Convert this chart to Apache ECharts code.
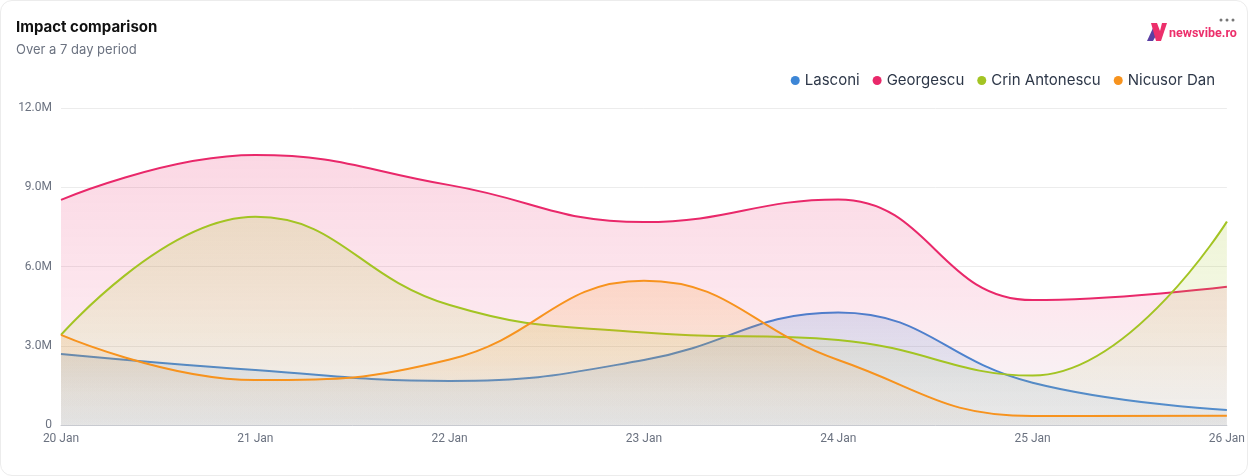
<!DOCTYPE html>
<html>
<head>
<meta charset="utf-8">
<script src="https://cdn.jsdelivr.net/npm/echarts@6/dist/echarts.min.js"></script>
<style>
html,body{margin:0;padding:0;background:#ffffff;}
#card{position:absolute;left:0;top:0;width:1246px;height:474px;border:1px solid #ececec;border-radius:12px;background:#fff;overflow:hidden;}
#chart{width:1248px;height:476px;position:absolute;left:-1px;top:-1px;}
</style>
</head>
<body>
<div id="card"><div id="chart"></div></div>
<script>
const categories = ['20 Jan','21 Jan','22 Jan','23 Jan','24 Jan','25 Jan','26 Jan'];
const lasconi    = [2.69e6, 2.08e6, 1.67e6, 2.46e6, 4.26e6, 1.60e6, 0.57e6];
const georgescu  = [8.52e6, 10.22e6, 9.08e6, 7.68e6, 8.54e6, 4.73e6, 5.23e6];
const crin       = [3.41e6, 7.88e6, 4.54e6, 3.50e6, 3.22e6, 1.87e6, 7.70e6];
const nicusor    = [3.41e6, 1.70e6, 2.48e6, 5.46e6, 2.46e6, 0.34e6, 0.35e6];
const seriesNames = ['Lasconi','Georgescu','Crin Antonescu','Nicusor Dan'];
const yTicks = [0, 3e6, 6e6, 9e6, 12e6];

const colors = ['#3d86d6','#e9286a','#a3c423','#f7931e'];
const rgba = (hex,a)=>{const n=parseInt(hex.slice(1),16);return `rgba(${n>>16},${(n>>8)&255},${n&255},${a})`;};

const chart = echarts.init(document.getElementById('chart'));
const allData = [lasconi, georgescu, crin, nicusor];

const series = allData.map((d,i)=>({
  name: seriesNames[i],
  type: 'line',
  z: 2 + i,
  data: d,
  smooth: 0.45,
  symbol: 'none',
  lineStyle: {width: 2, color: colors[i]},
  itemStyle: {color: colors[i]},
  areaStyle: {
    color: new echarts.graphic.LinearGradient(0,0,0,1,[
      {offset:0, color: rgba(colors[i],0.26)},
      {offset:0.55, color: rgba(colors[i],0.16)},
      {offset:1, color: 'rgba(175,175,175,0.14)'}
    ])
  }
}));

chart.setOption({
  animation: false,
  color: colors,
  textStyle: {fontFamily: 'Inter, Roboto, sans-serif'},
  title: [
    {text: 'Impact comparison', left: 16, top: 20, padding: 0, textStyle: {fontSize: 15, fontWeight: 'bold', color: '#111', fontFamily: 'Inter, Roboto, sans-serif'}},
    {text: 'Over a 7 day period', left: 16, top: 44, padding: 0, textStyle: {fontSize: 13, fontWeight: 'normal', color: '#6b7280', fontFamily: 'Inter, Roboto, sans-serif'}}
  ],
  legend: {
    right: 28, top: 68,
    icon: 'circle', itemWidth: 9, itemHeight: 9, itemGap: 13,
    textStyle: {fontSize: 15, color: '#2d3748', fontFamily: 'Inter, Roboto, sans-serif', padding: [0,0,0,0]},
    data: seriesNames
  },
  grid: {left: 61, right: 21, top: 108, bottom: 51, containLabel: false},
  xAxis: {
    type: 'category', data: categories, boundaryGap: false,
    axisLine: {lineStyle: {color: '#c8cad0', width: 1}},
    axisTick: {show: false},
    axisLabel: {color: '#6b7280', fontSize: 12, margin: 8, fontFamily: 'Roboto, sans-serif'},
    splitLine: {show: false}
  },
  yAxis: {
    type: 'value', min: yTicks[0], max: yTicks[yTicks.length-1], interval: yTicks[1]-yTicks[0],
    axisLine: {show: false}, axisTick: {show: false},
    axisLabel: {color: '#6b7280', fontSize: 12, margin: 9, fontFamily: 'Roboto, sans-serif',
      formatter: v => v === 0 ? '0' : (v/1e6).toFixed(1) + 'M'},
    splitLine: {lineStyle: {color: '#ececec', width: 1}}
  },
  series: series,
  graphic: [
    {type:'polygon', shape:{points:[[1147,41],[1153,28],[1157,34],[1153,41]]}, style:{fill:'#5a3fa3'}},
    {type:'polygon', shape:{points:[[1151,23],[1157,23],[1160,31],[1162,23],[1167,23],[1161,41],[1156,41]]}, style:{fill:'#ec2f6b'}},
    {type:'text', left: 1169, top: 27, style:{text:'newsvibe.ro', fill:'#ec2f6b', font:'bold 12.5px Roboto, sans-serif'}},
    {type:'circle', shape:{cx:1221, cy:20, r:1.5}, style:{fill:'#777'}},
    {type:'circle', shape:{cx:1227, cy:20, r:1.5}, style:{fill:'#777'}},
    {type:'circle', shape:{cx:1233, cy:20, r:1.5}, style:{fill:'#777'}}
  ]
});
</script>
</body>
</html>
